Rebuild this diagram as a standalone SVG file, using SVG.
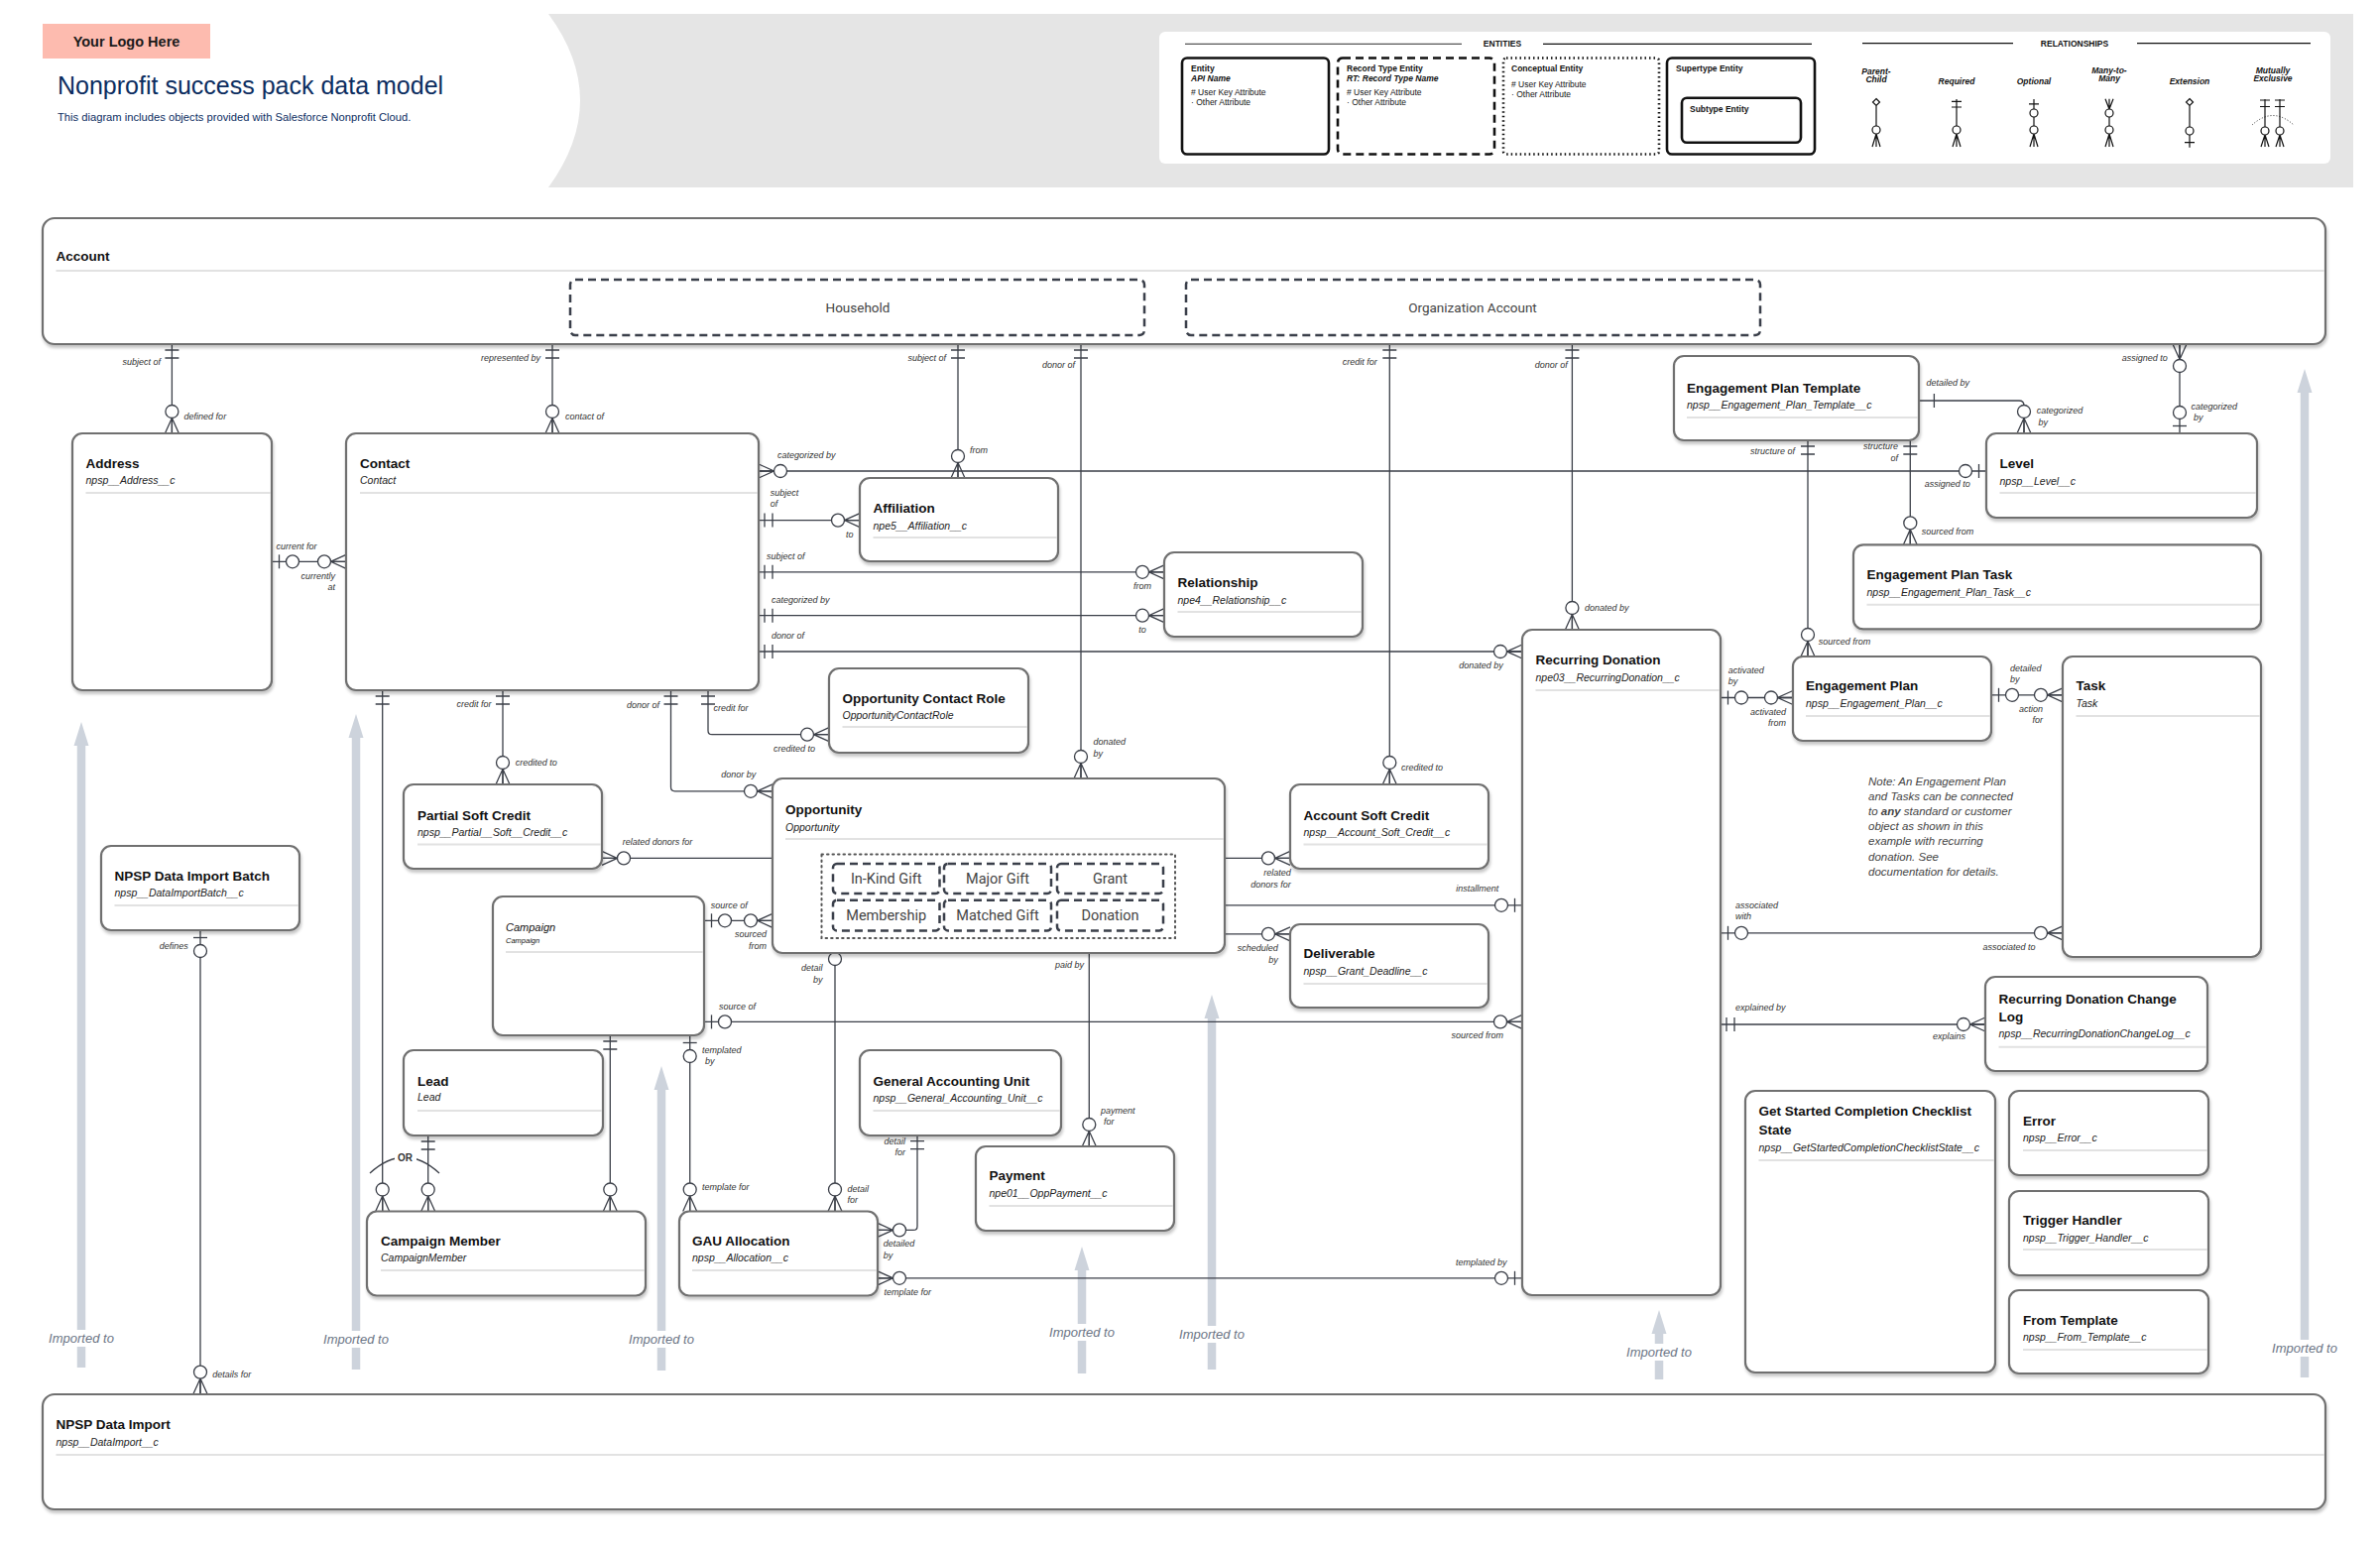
<svg xmlns="http://www.w3.org/2000/svg" width="2400" height="1564" viewBox="0 0 2400 1564">
<defs>
<style>
text{font-family:"Liberation Sans",Arial,sans-serif}
.n{fill:#fff;stroke:#707070;stroke-width:2.2;filter:url(#sh)}
.t{font-weight:bold;font-size:13.5px;fill:#111}
.a{font-style:italic;font-size:10.5px;fill:#222}
.d{stroke:#e2e2e2;stroke-width:2}
.c{fill:none;stroke:#3b3f48;stroke-width:1.3}
.s{fill:none;stroke:#3b3f48;stroke-width:1.3}
.s circle{fill:#fff}
.l{font-style:italic;font-size:9px;fill:#333}
.e{text-anchor:end}
.m{text-anchor:middle}
.imp{font-style:italic;font-size:13px;fill:#6b7585;text-anchor:middle}
.sub{fill:none;stroke:#3a3f4a;stroke-width:2.5;stroke-dasharray:8 5}
.subt{font-family:Roboto,"Liberation Sans",sans-serif;font-size:13.5px;fill:#444;text-anchor:middle}
.ost{font-size:14.5px}
.lg{fill:none;stroke:#111;stroke-width:2.6}
.lt{font-size:8.5px;font-weight:bold;fill:#111}
.la{font-size:8.5px;fill:#111}
.rl{font-size:8.5px;font-weight:bold;font-style:italic;fill:#111;text-anchor:middle}
.ls{fill:none;stroke:#111;stroke-width:1.2}
.ls circle{fill:#fff}
.arr{fill:#cdd3dc}
</style>
<filter id="sh" x="-3%" y="-3%" width="106%" height="115%">
<feDropShadow dx="1" dy="3" stdDeviation="1.5" flood-color="#000" flood-opacity="0.22"/>
</filter>
<g id="m0" class="s"><path d="M-7,0 L0,-15.5 L7,0 M0,0 V-15.5"/><circle cy="-22" r="6.5"/></g>
<g id="b2" class="s"><path d="M-7,-6 H7 M-7,-14 H7"/></g>
<g id="b1o" class="s"><path d="M-7,-7.5 H7"/><circle cy="-21" r="6.5"/></g>
</defs>
<rect width="2400" height="1564" fill="#fff"/>

<g id="header">
<path d="M553,14 L2373,14 L2373,189 L553,189 Q617,101 553,14 Z" fill="#e5e5e5"/>
<rect x="43" y="24" width="169" height="35" fill="#fdbbaf"/>
<text x="127.5" y="47.3" text-anchor="middle" font-weight="bold" font-size="14.5" fill="#1a1a1a">Your Logo Here</text>
<text x="58" y="94.6" font-size="25" fill="#0b2d5f">Nonprofit success pack data model</text>
<text x="58" y="122.4" font-size="11.2" fill="#0b2d5f">This diagram includes objects provided with Salesforce Nonprofit Cloud.</text>
</g>

<g id="legend">
<rect x="1169" y="32" width="1181" height="133" rx="6" fill="#fff"/>
<line x1="1195" y1="44.3" x2="1474" y2="44.3" stroke="#555" stroke-width="1.2"/>
<text x="1515" y="47.3" text-anchor="middle" font-size="8.5" font-weight="bold" fill="#111">ENTITIES</text>
<line x1="1556" y1="44.3" x2="1827" y2="44.3" stroke="#111" stroke-width="1.2"/>
<line x1="1878" y1="43.6" x2="2030" y2="43.6" stroke="#111" stroke-width="1.2"/>
<text x="2092" y="46.6" text-anchor="middle" font-size="8.5" font-weight="bold" fill="#111">RELATIONSHIPS</text>
<line x1="2155" y1="43.6" x2="2330" y2="43.6" stroke="#111" stroke-width="1.2"/>
<rect class="lg" x="1192" y="58.5" width="148" height="97" rx="5"/>
<text class="lt" x="1201" y="72.3">Entity</text>
<text class="lt" x="1201" y="81.5" font-style="italic">API Name</text>
<text class="la" x="1201" y="96.3"># User Key Attribute</text>
<text class="la" x="1201" y="106">· Other Attribute</text>
<rect class="lg" x="1349" y="58.5" width="158" height="97" rx="5" stroke-dasharray="8 5"/>
<text class="lt" x="1358" y="72.3">Record Type Entity</text>
<text class="lt" x="1358" y="81.5" font-style="italic">RT: Record Type Name</text>
<text class="la" x="1358" y="96.3"># User Key Attribute</text>
<text class="la" x="1358" y="106">· Other Attribute</text>
<rect class="lg" x="1516" y="58.5" width="157" height="97" rx="3" stroke-width="2" stroke-dasharray="1.5 3"/>
<text class="lt" x="1524" y="72.3">Conceptual Entity</text>
<text class="la" x="1524" y="87.9"># User Key Attribute</text>
<text class="la" x="1524" y="97.7">· Other Attribute</text>
<rect class="lg" x="1681" y="58.5" width="149" height="97" rx="5"/>
<text class="lt" x="1690" y="72.3">Supertype Entity</text>
<rect class="lg" x="1696" y="98.7" width="120" height="45" rx="5"/>
<text class="lt" x="1704" y="112.6">Subtype Entity</text>
<text class="rl" x="1892" y="75">Parent-</text><text class="rl" x="1892" y="83">Child</text>
<text class="rl" x="1973" y="84.5">Required</text>
<text class="rl" x="2051" y="85">Optional</text>
<text class="rl" x="2127" y="74.4">Many-to-</text><text class="rl" x="2127" y="82">Many</text>
<text class="rl" x="2208" y="85">Extension</text>
<text class="rl" x="2292" y="74.4">Mutually</text><text class="rl" x="2292" y="82">Exclusive</text>
<g class="ls">
<path d="M1892,99.5 L1895.5,103 L1892,106.5 L1888.5,103 Z M1892,106.5 V127 M1892,135 L1888,148 M1892,135 V148 M1892,135 L1896,148"/><circle cx="1892" cy="131" r="4"/>
<path d="M1973,100 V127 M1968,102.4 H1978 M1968,108 H1978 M1973,135 L1969,148 M1973,135 V148 M1973,135 L1977,148"/><circle cx="1973" cy="131" r="4"/>
<path d="M2051,100 V110 M2046,104.8 H2056 M2051,118 V127 M2051,135 L2047,148 M2051,135 V148 M2051,135 L2055,148"/><circle cx="2051" cy="114" r="4"/><circle cx="2051" cy="131" r="4"/>
<path d="M2123,99.7 L2127,110 L2131,99.7 M2127,99.7 V110 M2127,118 V127 M2127,135 L2123,148 M2127,135 V148 M2127,135 L2131,148"/><circle cx="2127" cy="114" r="4"/><circle cx="2127" cy="131" r="4"/>
<path d="M2208,99.5 L2211.5,103 L2208,106.5 L2204.5,103 Z M2208,106.5 V128 M2208,136 V148.7 M2203,143.6 H2213"/><circle cx="2208" cy="132" r="4"/>
<path d="M2284,100 V128 M2279,101 H2289 M2279,107.5 H2289 M2284,136 L2280,148 M2284,136 V148 M2284,136 L2288,148"/><circle cx="2284" cy="132" r="4"/>
<path d="M2299,100 V128 M2294,101 H2304 M2294,107.5 H2304 M2299,136 L2295,148 M2299,136 V148 M2299,136 L2303,148"/><circle cx="2299" cy="132" r="4"/>
<path d="M2271,126 Q2292,107 2313,126" stroke-dasharray="1 2" stroke-width="0.9"/>
</g>
</g>

<g id="imported">
<polygon class="arr" points="82,728 89.5,752 74.5,752"/><rect class="arr" x="77.75" y="751" width="8.5" height="628"/>
<rect x="76" y="1341" width="12" height="17" fill="#fff"/><text class="imp" x="82" y="1354">Imported to</text>
<polygon class="arr" points="359,720 366.5,744 351.5,744"/><rect class="arr" x="354.75" y="743" width="8.5" height="638"/>
<rect x="353" y="1342" width="12" height="17" fill="#fff"/><text class="imp" x="359" y="1354.6">Imported to</text>
<polygon class="arr" points="667,1075 674.5,1099 659.5,1099"/><rect class="arr" x="662.75" y="1098" width="8.5" height="284"/>
<rect x="661" y="1342" width="12" height="17" fill="#fff"/><text class="imp" x="667" y="1354.6">Imported to</text>
<polygon class="arr" points="1091,1257 1098.5,1281 1083.5,1281"/><rect class="arr" x="1086.75" y="1280" width="8.5" height="105"/>
<rect x="1085" y="1335" width="12" height="17" fill="#fff"/><text class="imp" x="1091" y="1348">Imported to</text>
<polygon class="arr" points="1222,1003 1229.5,1027 1214.5,1027"/><rect class="arr" x="1217.75" y="1026" width="8.5" height="355"/>
<rect x="1216" y="1337" width="12" height="17" fill="#fff"/><text class="imp" x="1222" y="1350">Imported to</text>
<polygon class="arr" points="1673,1321 1680.5,1345 1665.5,1345"/><rect class="arr" x="1668.75" y="1344" width="8.5" height="47"/>
<rect x="1667" y="1355" width="12" height="17" fill="#fff"/><text class="imp" x="1673" y="1368">Imported to</text>
<polygon class="arr" points="2324,372 2331.5,396 2316.5,396"/><rect class="arr" x="2319.75" y="395" width="8.5" height="994"/>
<rect x="2318" y="1351" width="12" height="17" fill="#fff"/><text class="imp" x="2324" y="1364">Imported to</text>
</g>

<g id="connectors">
<path class="c" d="M173.4,347 V437 M557,347 V437 M966,347 V482 M1090,347 V785 M1401.3,347 V791 M1585.4,347 V635 M2198,347 V437"/>
<path class="c" d="M274,566.3 H349 M765,475 H2003 M765,524.6 H867 M765,576.8 H1174 M765,620.7 H1174 M765,657 H1535"/>
<path class="c" d="M676.5,696 V793.8 Q676.5,797.8 680.5,797.8 H779 M714,696 V736.7 Q714,740.7 718,740.7 H836 M507,696 V791 M385.7,696 V1221.5 M431.7,1145 V1221.5 M615.3,1044 V1221.5"/>
<path class="c" d="M710,928.3 H779 M710,1030.4 H1535 M695.7,1044 V1221.5 M842,946 V1221.5 M1098.3,946 V1156"/>
<path class="c" d="M607,865.4 H828.5 M1185,865.4 H1301 M1185,941.8 H1301 M1173,912.8 H1535"/>
<path class="c" d="M885,1240.4 H921 Q925,1240.4 925,1236.4 V1144.6 M885,1288.8 H1535 M202,938 V1405.6"/>
<path class="c" d="M1935,404 H2036 Q2041,404 2041,409 V437 M1950.4,397 V411 M1823,444 V662 M1926.3,444 V549.4"/>
<path class="c" d="M1735,703.5 H1808 M2008,700.8 H2080 M1735,940.8 H2080 M1735,1033 H2002"/>
<path class="c" d="M373,1183 Q408,1151 443,1183"/>
<rect x="398" y="1160" width="22" height="12" fill="#fff"/>
<text x="408.5" y="1170.5" text-anchor="middle" font-size="10" font-weight="bold" fill="#333">OR</text>

<use href="#b2" transform="translate(173.4,347) rotate(180)"/><use href="#m0" transform="translate(173.4,437)"/>
<use href="#b2" transform="translate(557,347) rotate(180)"/><use href="#m0" transform="translate(557,437)"/>
<use href="#b2" transform="translate(966,347) rotate(180)"/><use href="#m0" transform="translate(966,482)"/>
<use href="#b2" transform="translate(1090,347) rotate(180)"/><use href="#m0" transform="translate(1090,785)"/>
<use href="#b2" transform="translate(1401.3,347) rotate(180)"/><use href="#m0" transform="translate(1401.3,791)"/>
<use href="#b2" transform="translate(1585.4,347) rotate(180)"/><use href="#m0" transform="translate(1585.4,635)"/>
<use href="#m0" transform="translate(2198,347) rotate(180)"/><use href="#b1o" transform="translate(2198,437)"/>
<use href="#b1o" transform="translate(274,566.3) rotate(90)"/><use href="#m0" transform="translate(349,566.3) rotate(-90)"/>
<use href="#m0" transform="translate(765,475) rotate(90)"/><use href="#b1o" transform="translate(2003,475) rotate(-90)"/>
<use href="#b2" transform="translate(765,524.6) rotate(90)"/><use href="#m0" transform="translate(867,524.6) rotate(-90)"/>
<use href="#b2" transform="translate(765,576.8) rotate(90)"/><use href="#m0" transform="translate(1174,576.8) rotate(-90)"/>
<use href="#b2" transform="translate(765,620.7) rotate(90)"/><use href="#m0" transform="translate(1174,620.7) rotate(-90)"/>
<use href="#b2" transform="translate(765,657) rotate(90)"/><use href="#m0" transform="translate(1535,657) rotate(-90)"/>
<use href="#b2" transform="translate(676.5,696) rotate(180)"/><use href="#m0" transform="translate(779,797.8) rotate(-90)"/>
<use href="#b2" transform="translate(714,696) rotate(180)"/><use href="#m0" transform="translate(836,740.7) rotate(-90)"/>
<use href="#b2" transform="translate(507,696) rotate(180)"/><use href="#m0" transform="translate(507,791)"/>
<use href="#b2" transform="translate(385.7,696) rotate(180)"/><use href="#m0" transform="translate(385.7,1221.5)"/>
<use href="#b2" transform="translate(431.7,1145) rotate(180)"/><use href="#m0" transform="translate(431.7,1221.5)"/>
<use href="#b2" transform="translate(615.3,1044) rotate(180)"/><use href="#m0" transform="translate(615.3,1221.5)"/>
<use href="#b1o" transform="translate(710,928.3) rotate(90)"/><use href="#m0" transform="translate(779,928.3) rotate(-90)"/>
<use href="#b1o" transform="translate(710,1030.4) rotate(90)"/><use href="#m0" transform="translate(1535,1030.4) rotate(-90)"/>
<use href="#b1o" transform="translate(695.7,1044) rotate(180)"/><use href="#m0" transform="translate(695.7,1221.5)"/>
<use href="#b1o" transform="translate(842,946) rotate(180)"/><use href="#m0" transform="translate(842,1221.5)"/>
<use href="#b2" transform="translate(1098.3,946) rotate(180)"/><use href="#m0" transform="translate(1098.3,1156)"/>
<use href="#m0" transform="translate(607,865.4) rotate(90)"/><use href="#b2" transform="translate(828.5,865.4) rotate(-90)"/>
<use href="#b2" transform="translate(1185,865.4) rotate(90)"/><use href="#m0" transform="translate(1301,865.4) rotate(-90)"/>
<use href="#b1o" transform="translate(1185,941.8) rotate(90)"/><use href="#m0" transform="translate(1301,941.8) rotate(-90)"/>
<use href="#m0" transform="translate(1173,912.8) rotate(90)"/><use href="#b1o" transform="translate(1535,912.8) rotate(-90)"/>
<use href="#m0" transform="translate(885,1240.4) rotate(90)"/><use href="#b2" transform="translate(925,1144.6) rotate(180)"/>
<use href="#m0" transform="translate(885,1288.8) rotate(90)"/><use href="#b1o" transform="translate(1535,1288.8) rotate(-90)"/>
<use href="#b1o" transform="translate(202,938) rotate(180)"/><use href="#m0" transform="translate(202,1405.6)"/>
<use href="#m0" transform="translate(2041,437)"/>
<use href="#b2" transform="translate(1823,444) rotate(180)"/><use href="#m0" transform="translate(1823,662)"/>
<use href="#b2" transform="translate(1926.3,444) rotate(180)"/><use href="#m0" transform="translate(1926.3,549.4)"/>
<use href="#b1o" transform="translate(1735,703.5) rotate(90)"/><use href="#m0" transform="translate(1808,703.5) rotate(-90)"/>
<use href="#b1o" transform="translate(2008,700.8) rotate(90)"/><use href="#m0" transform="translate(2080,700.8) rotate(-90)"/>
<use href="#b1o" transform="translate(1735,940.8) rotate(90)"/><use href="#m0" transform="translate(2080,940.8) rotate(-90)"/>
<use href="#b2" transform="translate(1735,1033) rotate(90)"/><use href="#m0" transform="translate(2002,1033) rotate(-90)"/>

<text class="l e" x="162" y="368.4">subject of</text><text class="l" x="185.6" y="423">defined for</text>
<text class="l e" x="545" y="364">represented by</text><text class="l" x="570" y="423">contact of</text>
<text class="l e" x="954" y="364.4">subject of</text><text class="l" x="978" y="457">from</text>
<text class="l e" x="1084" y="371">donor of</text><text class="l" x="1102.5" y="751">donated</text><text class="l" x="1102.5" y="762.7">by</text>
<text class="l e" x="1388.7" y="367.7">credit for</text><text class="l" x="1413" y="777">credited to</text>
<text class="l e" x="1580.8" y="371">donor of</text><text class="l" x="1598" y="616">donated by</text>
<text class="l e" x="2185.8" y="364.4">assigned to</text><text class="l" x="2209.5" y="413">categorized</text><text class="l" x="2212" y="423.5">by</text>
<text class="l" x="278.6" y="553.8">current for</text><text class="l e" x="338" y="584">currently</text><text class="l e" x="338" y="595">at</text>
<text class="l" x="784" y="461.7">categorized by</text><text class="l" x="1940.8" y="490.8">assigned to</text>
<text class="l" x="776.8" y="500">subject</text><text class="l" x="776.8" y="511.4">of</text><text class="l" x="853" y="542">to</text>
<text class="l" x="773" y="564">subject of</text><text class="l m" x="1152" y="593.7">from</text>
<text class="l" x="778" y="608">categorized by</text><text class="l m" x="1152" y="638">to</text>
<text class="l" x="778" y="643.7">donor of</text><text class="l e" x="1515.7" y="673.8">donated by</text>
<text class="l e" x="665" y="714.4">donor of</text><text class="l m" x="744.7" y="784.3">donor by</text>
<text class="l" x="719.4" y="716.7">credit for</text><text class="l m" x="801" y="757.6">credited to</text>
<text class="l e" x="495.6" y="713">credit for</text><text class="l" x="519.7" y="771.8">credited to</text>
<text class="l" x="716.7" y="915.5">source of</text><text class="l e" x="773" y="945">sourced</text><text class="l e" x="773" y="957">from</text>
<text class="l" x="725" y="1018">source of</text><text class="l e" x="1516" y="1047">sourced from</text>
<text class="l" x="708" y="1061.7">templated</text><text class="l" x="711" y="1072.7">by</text><text class="l" x="708" y="1200">template for</text>
<text class="l e" x="829.6" y="979">detail</text><text class="l e" x="829.6" y="990.5">by</text><text class="l" x="854.5" y="1202">detail</text><text class="l" x="854.5" y="1213">for</text>
<text class="l e" x="1093" y="975.6">paid by</text><text class="l" x="1110" y="1123">payment</text><text class="l" x="1113" y="1134">for</text>
<text class="l m" x="663" y="852">related donors for</text><text class="l e" x="822.7" y="882">detailed</text><text class="l e" x="822.7" y="893.5">by</text>
<text class="l" x="1189" y="841">detailed</text><text class="l" x="1189" y="852">by</text><text class="l e" x="1301.8" y="883">related</text><text class="l e" x="1301.8" y="894.5">donors for</text>
<text class="l" x="1198" y="929">assigned</text><text class="l e" x="1288.8" y="959.4">scheduled</text><text class="l e" x="1288.8" y="970.6">by</text>
<text class="l" x="1191" y="887">assigned</text><text class="l" x="1193" y="898">to</text><text class="l m" x="1489.7" y="898.6">installment</text>
<text class="l e" x="913" y="1153.6">detail</text><text class="l e" x="913" y="1165">for</text><text class="l" x="890.8" y="1257">detailed</text><text class="l" x="890.8" y="1269">by</text>
<text class="l" x="891.6" y="1305.5">template for</text><text class="l e" x="1519.5" y="1275.5">templated by</text>
<text class="l e" x="189.8" y="957">defines</text><text class="l" x="214.3" y="1389">details for</text>
<text class="l" x="1942.4" y="389.4">detailed by</text><text class="l" x="2053.7" y="417.4">categorized</text><text class="l" x="2055.6" y="428.6">by</text>
<text class="l e" x="1810" y="458">structure of</text><text class="l" x="1833.7" y="650">sourced from</text>
<text class="l e" x="1914" y="453">structure</text><text class="l e" x="1914" y="464.8">of</text><text class="l" x="1937.8" y="538.6">sourced from</text>
<text class="l" x="1742.7" y="679">activated</text><text class="l" x="1742.7" y="690">by</text><text class="l e" x="1801" y="720.8">activated</text><text class="l e" x="1801" y="732">from</text>
<text class="l" x="2027" y="676.5">detailed</text><text class="l" x="2027" y="688">by</text><text class="l e" x="2060" y="717.7">action</text><text class="l e" x="2060" y="729">for</text>
<text class="l" x="1750" y="915.5">associated</text><text class="l" x="1750" y="927">with</text><text class="l e" x="2052.6" y="957.7">associated to</text>
<text class="l" x="1750" y="1018.6">explained by</text><text class="l e" x="1982" y="1048.4">explains</text>
</g>

<g id="account"><rect class="n" x="43" y="220" width="2302" height="127" rx="12"/><text class="t" x="56.5" y="262.6">Account</text><line class="d" x1="56.5" y1="273" x2="2344" y2="273"/></g>
<g id="household"><rect class="sub" x="575" y="282" width="579" height="56" rx="5"/><text class="subt" x="865" y="315.4">Household</text></g>
<g id="organization-account"><rect class="sub" x="1196" y="282" width="579" height="56" rx="5"/><text class="subt" x="1485" y="315.4">Organization Account</text></g>

<g id="address"><rect class="n" x="73" y="437" width="201" height="259" rx="10"/><text class="t" x="86.5" y="472">Address</text><text class="a" x="86.5" y="488.4">npsp__Address__c</text><line class="d" x1="86.5" y1="497" x2="273" y2="497"/></g>
<g id="contact"><rect class="n" x="349" y="437" width="416" height="259" rx="10"/><text class="t" x="363" y="472">Contact</text><text class="a" x="363" y="488.4">Contact</text><line class="d" x1="363" y1="497" x2="764" y2="497"/></g>
<g id="affiliation"><rect class="n" x="867" y="482" width="200" height="84" rx="10"/><text class="t" x="880.5" y="516.5">Affiliation</text><text class="a" x="880.5" y="533.5">npe5__Affiliation__c</text><line class="d" x1="880.5" y1="542" x2="1066" y2="542"/></g>
<g id="relationship"><rect class="n" x="1174" y="557" width="200" height="85" rx="10"/><text class="t" x="1187.5" y="591.7">Relationship</text><text class="a" x="1187.5" y="608.6">npe4__Relationship__c</text><line class="d" x1="1187.5" y1="617" x2="1373" y2="617"/></g>
<g id="opportunity-contact-role"><rect class="n" x="836" y="674" width="201" height="85" rx="10"/><text class="t" x="849.5" y="708.6">Opportunity Contact Role</text><text class="a" x="849.5" y="724.8">OpportunityContactRole</text><line class="d" x1="849.5" y1="733" x2="1036" y2="733"/></g>
<g id="opportunity"><rect class="n" x="779" y="785" width="456" height="176" rx="10"/><text class="t" x="792" y="820.8">Opportunity</text><text class="a" x="792" y="837.7">Opportunity</text><line class="d" x1="792" y1="846" x2="1234" y2="846"/>
<rect x="828.5" y="861.4" width="356.5" height="84.6" fill="none" stroke="#555" stroke-width="2" stroke-dasharray="1.5 4" stroke-linecap="round"/>
<rect class="sub" x="840" y="871" width="107.5" height="30" rx="4"/><text class="subt ost" x="893.7" y="891">In-Kind Gift</text>
<rect class="sub" x="952" y="871" width="108" height="30" rx="4"/><text class="subt ost" x="1006" y="891">Major Gift</text>
<rect class="sub" x="1066" y="871" width="107" height="30" rx="4"/><text class="subt ost" x="1119.5" y="891">Grant</text>
<rect class="sub" x="840" y="907.7" width="107.5" height="30.7" rx="4"/><text class="subt ost" x="893.7" y="928">Membership</text>
<rect class="sub" x="952" y="907.7" width="108" height="30.7" rx="4"/><text class="subt ost" x="1006" y="928">Matched Gift</text>
<rect class="sub" x="1066" y="907.7" width="107" height="30.7" rx="4"/><text class="subt ost" x="1119.5" y="928">Donation</text>
</g>
<g id="partial-soft-credit"><rect class="n" x="407" y="791" width="200" height="85" rx="10"/><text class="t" x="421" y="827">Partial Soft Credit</text><text class="a" x="421" y="843">npsp__Partial__Soft__Credit__c</text><line class="d" x1="421" y1="851.5" x2="606" y2="851.5"/></g>
<g id="npsp-data-import-batch"><rect class="n" x="102" y="853" width="200" height="85" rx="10"/><text class="t" x="115.5" y="888.4">NPSP Data Import Batch</text><text class="a" x="115.5" y="904.3">npsp__DataImportBatch__c</text><line class="d" x1="115.5" y1="913" x2="301" y2="913"/></g>
<g id="campaign"><rect class="n" x="497" y="904" width="213" height="140" rx="10"/><text x="510" y="939" font-style="italic" font-size="11" fill="#111">Campaign</text><text x="510" y="951" font-style="italic" font-size="7.5" fill="#111">Campaign</text><line class="d" x1="510" y1="960" x2="709" y2="960"/></g>
<g id="lead"><rect class="n" x="407" y="1059" width="201" height="86" rx="10"/><text class="t" x="421" y="1095">Lead</text><text class="a" x="421" y="1110">Lead</text><line class="d" x1="421" y1="1120" x2="607" y2="1120"/></g>
<g id="campaign-member"><rect class="n" x="370" y="1221.5" width="281" height="85" rx="10"/><text class="t" x="384" y="1255.5">Campaign Member</text><text class="a" x="384" y="1272">CampaignMember</text><line class="d" x1="384" y1="1281" x2="650" y2="1281"/></g>
<g id="gau-allocation"><rect class="n" x="685" y="1221.5" width="200" height="85" rx="10"/><text class="t" x="698" y="1255.5">GAU Allocation</text><text class="a" x="698" y="1272">npsp__Allocation__c</text><line class="d" x1="698" y1="1281" x2="884" y2="1281"/></g>
<g id="general-accounting-unit"><rect class="n" x="867" y="1059" width="203" height="86" rx="10"/><text class="t" x="880.5" y="1094.5">General Accounting Unit</text><text class="a" x="880.5" y="1110.8">npsp__General_Accounting_Unit__c</text><line class="d" x1="880.5" y1="1120" x2="1069" y2="1120"/></g>
<g id="payment"><rect class="n" x="984" y="1156" width="200" height="85" rx="10"/><text class="t" x="997.5" y="1190">Payment</text><text class="a" x="997.5" y="1207">npe01__OppPayment__c</text><line class="d" x1="997.5" y1="1216" x2="1183" y2="1216"/></g>
<g id="account-soft-credit"><rect class="n" x="1301" y="791" width="200" height="85" rx="10"/><text class="t" x="1314.5" y="827">Account Soft Credit</text><text class="a" x="1314.5" y="843">npsp__Account_Soft_Credit__c</text><line class="d" x1="1314.5" y1="851.5" x2="1500" y2="851.5"/></g>
<g id="deliverable"><rect class="n" x="1301" y="932" width="200" height="84" rx="10"/><text class="t" x="1314.5" y="966">Deliverable</text><text class="a" x="1314.5" y="983">npsp__Grant_Deadline__c</text><line class="d" x1="1314.5" y1="992" x2="1500" y2="992"/></g>
<g id="recurring-donation"><rect class="n" x="1535" y="635" width="200" height="671" rx="10"/><text class="t" x="1548.5" y="670.4">Recurring Donation</text><text class="a" x="1548.5" y="687.3">npe03__RecurringDonation__c</text><line class="d" x1="1548.5" y1="696" x2="1734" y2="696"/></g>
<g id="engagement-plan-template"><rect class="n" x="1688" y="359" width="247" height="85" rx="10"/><text class="t" x="1701" y="395.5">Engagement Plan Template</text><text class="a" x="1701" y="411.7">npsp__Engagement_Plan_Template__c</text><line class="d" x1="1701" y1="421" x2="1934" y2="421"/></g>
<g id="level"><rect class="n" x="2003" y="437" width="273" height="85" rx="10"/><text class="t" x="2016.5" y="472">Level</text><text class="a" x="2016.5" y="489">npsp__Level__c</text><line class="d" x1="2016.5" y1="497" x2="2275" y2="497"/></g>
<g id="engagement-plan-task"><rect class="n" x="1869" y="549.4" width="411" height="85" rx="10"/><text class="t" x="1882.5" y="584">Engagement Plan Task</text><text class="a" x="1882.5" y="601">npsp__Engagement_Plan_Task__c</text><line class="d" x1="1882.5" y1="609.7" x2="2279" y2="609.7"/></g>
<g id="engagement-plan"><rect class="n" x="1808" y="662" width="200" height="85" rx="10"/><text class="t" x="1821" y="696.4">Engagement Plan</text><text class="a" x="1821" y="712.7">npsp__Engagement_Plan__c</text><line class="d" x1="1821" y1="722" x2="2007" y2="722"/></g>
<g id="task"><rect class="n" x="2080" y="662" width="200" height="303" rx="10"/><text class="t" x="2093.5" y="696.4">Task</text><text class="a" x="2093.5" y="712.7">Task</text><line class="d" x1="2093.5" y1="722" x2="2279" y2="722"/></g>
<g id="recurring-donation-change-log"><rect class="n" x="2002" y="985" width="224" height="95" rx="10"/><text class="t" x="2015.5" y="1011.8">Recurring Donation Change</text><text class="t" x="2015.5" y="1030.4">Log</text><text class="a" x="2015.5" y="1045.6">npsp__RecurringDonationChangeLog__c</text><line class="d" x1="2015.5" y1="1055.7" x2="2225" y2="1055.7"/></g>
<g id="get-started-completion-checklist-state"><rect class="n" x="1760" y="1100" width="252" height="284" rx="10"/><text class="t" x="1773.5" y="1125">Get Started Completion Checklist</text><text class="t" x="1773.5" y="1144">State</text><text class="a" x="1773.5" y="1161">npsp__GetStartedCompletionChecklistState__c</text><line class="d" x1="1773.5" y1="1170" x2="2011" y2="1170"/></g>
<g id="error"><rect class="n" x="2026" y="1100" width="201" height="85" rx="10"/><text class="t" x="2040" y="1135">Error</text><text class="a" x="2040" y="1151">npsp__Error__c</text><line class="d" x1="2040" y1="1160" x2="2226" y2="1160"/></g>
<g id="trigger-handler"><rect class="n" x="2026" y="1201" width="201" height="85" rx="10"/><text class="t" x="2040" y="1235.4">Trigger Handler</text><text class="a" x="2040" y="1251.5">npsp__Trigger_Handler__c</text><line class="d" x1="2040" y1="1260" x2="2226" y2="1260"/></g>
<g id="from-template"><rect class="n" x="2026" y="1301" width="201" height="84" rx="10"/><text class="t" x="2040" y="1335.6">From Template</text><text class="a" x="2040" y="1351.8">npsp__From_Template__c</text><line class="d" x1="2040" y1="1361" x2="2226" y2="1361"/></g>
<g id="npsp-data-import"><rect class="n" x="43" y="1406" width="2302" height="116" rx="12"/><text class="t" x="56.5" y="1441">NPSP Data Import</text><text class="a" x="56.5" y="1457.7">npsp__DataImport__c</text><line class="d" x1="56.5" y1="1467" x2="2344" y2="1467"/></g>

<g id="note" font-style="italic" font-size="11.5" fill="#444">
<text x="1884" y="792">Note: An Engagement Plan</text>
<text x="1884" y="807">and Tasks can be connected</text>
<text x="1884" y="822">to <tspan font-weight="bold">any</tspan> standard or customer</text>
<text x="1884" y="837">object as shown in this</text>
<text x="1884" y="852">example with recurring</text>
<text x="1884" y="867.5">donation. See</text>
<text x="1884" y="882.7">documentation for details.</text>
</g>
</svg>
